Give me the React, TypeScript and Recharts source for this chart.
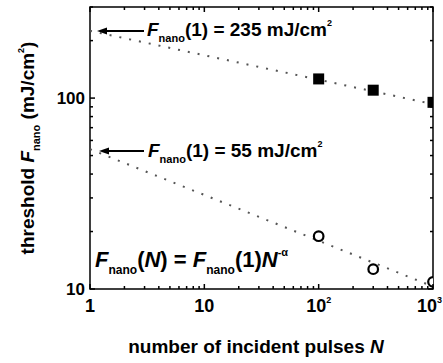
import React from 'react';
import { ComposedChart, XAxis, YAxis, Scatter, Line, ReferenceArea } from 'recharts';

const pulsesN = [100, 300, 1000];
const highFluence = [126, 110, 95];
const lowFluence = [18.9, 12.7, 10.9];
const fitHighN = [1, 1000];
const fitHighF = [225, 93];
const fitLowN = [1, 1000];
const fitLowF = [54, 10.3];
const xTicks = [1, 2, 3, 4, 5, 6, 7, 8, 9, 10, 20, 30, 40, 50, 60, 70, 80, 90, 100, 200, 300, 400, 500, 600, 700, 800, 900, 1000];
const yTicks = [10, 20, 30, 40, 50, 60, 70, 80, 90, 100, 200, 300];
const xMajor: Record<number, [string, string]> = { 1: ['1', ''], 10: ['10', ''], 100: ['10', '2'], 1000: ['10', '3'] };
const yMajor: Record<number, string> = { 10: '10', 100: '100' };

const W = 443;
const H = 363;
const M = { top: 7, right: 10, bottom: 0, left: 0 };
const Y_W = 90;
const X_H = 74;
const PLOT_TOP = M.top;
const PLOT_BOTTOM = H - M.bottom - X_H;
const PLOT_LEFT = M.left + Y_W;
const PLOT_RIGHT = W - M.right;

const squares = pulsesN.map((n, i) => ({ n, f: highFluence[i] }));
const circles = pulsesN.map((n, i) => ({ n, f: lowFluence[i] }));
const fitHigh = fitHighN.map((n, i) => ({ n, f: fitHighF[i] }));
const fitLow = fitLowN.map((n, i) => ({ n, f: fitLowF[i] }));

const FONT = '"Liberation Sans", Arial, sans-serif';

const XTick = (props: any) => {
  const { x, payload } = props;
  const v = payload.value;
  const major = xMajor[v];
  const len = major ? 5 : 3;
  const isLast = v === 1000;
  return (
    <g>
      <line x1={x} x2={x} y1={PLOT_BOTTOM} y2={PLOT_BOTTOM - len} stroke="#000" strokeWidth={1.5} />
      <line x1={x} x2={x} y1={PLOT_TOP} y2={PLOT_TOP + len} stroke="#000" strokeWidth={1.5} />
      {major && (
        <text
          x={isLast ? x + 9 : x}
          y={PLOT_BOTTOM + 23}
          textAnchor={isLast ? 'end' : 'middle'}
          fontFamily={FONT}
          fontWeight="bold"
          fontSize={18}
          fill="#000"
        >
          {major[0]}
          {major[1] && (
            <tspan dy={-9} fontSize={9}>{major[1]}</tspan>
          )}
        </text>
      )}
    </g>
  );
};

const YTick = (props: any) => {
  const { y, payload } = props;
  const v = payload.value;
  const major = yMajor[v];
  const len = major ? 5 : 3;
  return (
    <g>
      <line x1={PLOT_LEFT} x2={PLOT_LEFT + len} y1={y} y2={y} stroke="#000" strokeWidth={1.5} />
      <line x1={PLOT_RIGHT} x2={PLOT_RIGHT - len} y1={y} y2={y} stroke="#000" strokeWidth={1.5} />
      {major && (
        <text x={PLOT_LEFT - 5} y={y + 6} textAnchor="end" fontFamily={FONT} fontWeight="bold" fontSize={17} fill="#000">
          {major}
        </text>
      )}
    </g>
  );
};

const SquareShape = (props: any) => {
  const { cx, cy } = props;
  return <rect x={cx - 5.5} y={cy - 5.5} width={11} height={11} fill="#000" />;
};

const CircleShape = (props: any) => {
  const { cx, cy } = props;
  return <circle cx={cx} cy={cy} r={4.8} fill="#fff" stroke="#000" strokeWidth={2.2} />;
};

const Arrow = ({ x1, x2, y }: { x1: number; x2: number; y: number }) => (
  <g>
    <line x1={x1 + 6} x2={x2} y1={y} y2={y} stroke="#000" strokeWidth={2.2} />
    <polygon points={`${x1},${y} ${x1 + 10},${y - 3.5} ${x1 + 10},${y + 3.5}`} fill="#000" />
  </g>
);

export default function App() {
  return (
    <div style={{ position: 'absolute', left: 0, top: 0, width: W, height: H, background: '#fff' }}>
      <ComposedChart width={W} height={H} margin={M}>
        <XAxis
          type="number"
          dataKey="n"
          scale="log"
          domain={[1, 1000]}
          allowDataOverflow
          ticks={xTicks}
          interval={0}
          tick={<XTick />}
          tickLine={false}
          tickSize={0}
          tickMargin={0}
          axisLine={false}
          height={X_H}
        />
        <YAxis
          type="number"
          dataKey="f"
          scale="log"
          domain={[10, 300]}
          allowDataOverflow
          ticks={yTicks}
          interval={0}
          tick={<YTick />}
          tickLine={false}
          tickSize={0}
          tickMargin={0}
          axisLine={false}
          width={Y_W}
        />
        <ReferenceArea x1={1} x2={1000} y1={10} y2={300} fill="none" stroke="#000" strokeWidth={1.5} ifOverflow="visible" />
        <Line data={fitHigh} dataKey="f" stroke="#555" strokeWidth={2} strokeDasharray="2 8" dot={false} isAnimationActive={false} />
        <Line data={fitLow} dataKey="f" stroke="#555" strokeWidth={2} strokeDasharray="2 8" dot={false} isAnimationActive={false} />
        <Scatter data={squares} dataKey="f" shape={<SquareShape />} isAnimationActive={false} />
        <Scatter data={circles} dataKey="f" shape={<CircleShape />} isAnimationActive={false} />
      </ComposedChart>
      <svg width={W} height={H} style={{ position: 'absolute', left: 0, top: 0, pointerEvents: 'none' }}>
        <g fontFamily={FONT} fontWeight="bold" fill="#000">
          <Arrow x1={97} x2={144} y={31} />
          <text x={147} y={36} fontSize={19}>
            <tspan fontStyle="italic">F</tspan>
            <tspan fontSize={11} dy={6}>nano</tspan>
            <tspan dy={-6}>(1) = 235 mJ/cm</tspan>
            <tspan fontSize={9} dy={-10}>2</tspan>
          </text>
          <Arrow x1={99} x2={144} y={151} />
          <text x={148} y={157} fontSize={19}>
            <tspan fontStyle="italic">F</tspan>
            <tspan fontSize={11} dy={6}>nano</tspan>
            <tspan dy={-6}>(1) = 55 mJ/cm</tspan>
            <tspan fontSize={9} dy={-10}>2</tspan>
          </text>
          <text x={95} y={267} fontSize={22}>
            <tspan fontStyle="italic">F</tspan>
            <tspan fontSize={12} dy={7}>nano</tspan>
            <tspan dy={-7}>(</tspan>
            <tspan fontStyle="italic">N</tspan>
            <tspan>) = </tspan>
            <tspan fontStyle="italic">F</tspan>
            <tspan fontSize={12} dy={7}>nano</tspan>
            <tspan dy={-7}>(1)</tspan>
            <tspan fontStyle="italic">N</tspan>
            <tspan fontSize={11} dy={-11}>-α</tspan>
          </text>
          <text x={256} y={353} fontSize={19} textAnchor="middle">
            number of incident pulses <tspan fontStyle="italic">N</tspan>
          </text>
          <text x={0} y={0} fontSize={19} textAnchor="middle" transform="translate(34,148) rotate(-90)">
            threshold <tspan fontStyle="italic">F</tspan>
            <tspan fontSize={11} dy={6}>nano</tspan>
            <tspan dy={-6}> (mJ/cm</tspan>
            <tspan fontSize={9} dy={-10}>2</tspan>
            <tspan dy={10}>)</tspan>
          </text>
        </g>
      </svg>
    </div>
  );
}
